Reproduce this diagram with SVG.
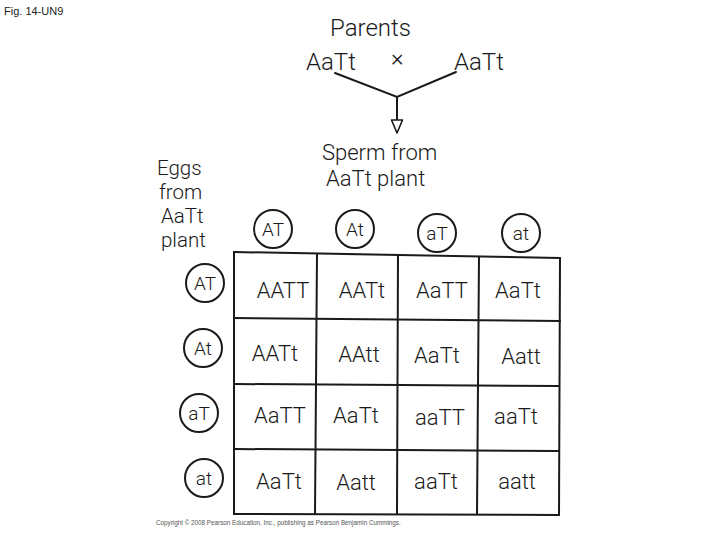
<svg xmlns="http://www.w3.org/2000/svg" width="720" height="540" viewBox="0 0 720 540">
<style>
.h{font-family:Roboto,"Liberation Sans",sans-serif;font-size:24px;fill:#1a1a1a;font-weight:300}
.s{font-family:Roboto,"Liberation Sans",sans-serif;font-size:22px;fill:#1a1a1a;font-weight:300}
.e{font-family:Roboto,"Liberation Sans",sans-serif;font-size:20.5px;fill:#1a1a1a;font-weight:300}
.c{font-family:Roboto,"Liberation Sans",sans-serif;font-size:22px;fill:#1a1a1a;font-weight:300;text-anchor:middle}
.g{font-family:Roboto,"Liberation Sans",sans-serif;font-size:19px;fill:#1a1a1a;font-weight:300;text-anchor:middle}
.ln{stroke:#1a1a1a;stroke-width:2;fill:none;stroke-linecap:round}
.circ{stroke:#1a1a1a;stroke-width:2;fill:none}
</style>
<rect width="720" height="540" fill="#fff"/>
<text x="4" y="15" font-family="Liberation Sans,Arial,sans-serif" font-size="11" fill="#222">Fig. 14-UN9</text>
<g id="parents">
<text class="h" x="330" y="36">Parents</text>
<text class="h" x="306" y="70">AaTt</text>
<text class="h" x="391" y="66" font-size="20">×</text>
<text class="h" x="454" y="70">AaTt</text>
</g>
<g id="connectors">
<path class="ln" d="M335,73 L397,97 L456,72"/>
<path class="ln" d="M397,97 L397,120"/>
<path d="M391.5,120 L402.5,120 L397,133 Z" fill="#fff" stroke="#1a1a1a" stroke-width="1.6" stroke-linejoin="round"/>
</g>
<g id="sperm-label">
<text class="s" x="322" y="160">Sperm from</text>
<text class="s" x="326" y="186">AaTt plant</text>
</g>
<g id="eggs-label">
<text class="e" x="157" y="175">Eggs</text>
<text class="e" x="159" y="199">from</text>
<text class="e" x="161" y="223">AaTt</text>
<text class="e" x="161" y="247">plant</text>
</g>
<g id="sperm-gametes">
<circle class="circ" cx="273" cy="229" r="19"/><text class="g" x="273" y="236">AT</text>
<circle class="circ" cx="355" cy="229" r="19"/><text class="g" x="355" y="236">At</text>
<circle class="circ" cx="437" cy="233" r="19"/><text class="g" x="437" y="240">aT</text>
<circle class="circ" cx="521" cy="233" r="19"/><text class="g" x="521" y="240">at</text>
</g>
<g id="egg-gametes">
<circle class="circ" cx="205" cy="283" r="19"/><text class="g" x="205" y="290">AT</text>
<circle class="circ" cx="203" cy="348" r="19"/><text class="g" x="203" y="355">At</text>
<circle class="circ" cx="199" cy="413" r="19"/><text class="g" x="199" y="420">aT</text>
<circle class="circ" cx="204" cy="478" r="19"/><text class="g" x="204" y="485">at</text>
</g>
<g id="grid">
<path class="ln" d="M234,252 L560,258 M234,318 L560,321 M234,384 L559,386 M234,449 L559,451 M234,514 L559,515"/>
<path class="ln" d="M234,252 L234,514 M317,254 L315,514 M398,255 L397,514 M479,257 L477,514 M560,258 L559,515"/>
</g>
<g id="cells">
<text class="c" x="283" y="298">AATT</text>
<text class="c" x="362" y="298">AATt</text>
<text class="c" x="442" y="298">AaTT</text>
<text class="c" x="518" y="298">AaTt</text>
<text class="c" x="275" y="361">AATt</text>
<text class="c" x="359" y="362">AAtt</text>
<text class="c" x="437" y="363">AaTt</text>
<text class="c" x="521" y="364">Aatt</text>
<text class="c" x="280" y="423">AaTT</text>
<text class="c" x="356" y="423">AaTt</text>
<text class="c" x="440" y="425">aaTT</text>
<text class="c" x="516" y="424">aaTt</text>
<text class="c" x="279" y="489">AaTt</text>
<text class="c" x="356" y="490">Aatt</text>
<text class="c" x="436" y="489">aaTt</text>
<text class="c" x="517" y="489">aatt</text>
</g>
<text x="156" y="525" font-family="Liberation Sans,Arial,sans-serif" font-size="6.3" fill="#555">Copyright © 2008 Pearson Education, Inc., publishing as Pearson Benjamin Cummings.</text>
</svg>
